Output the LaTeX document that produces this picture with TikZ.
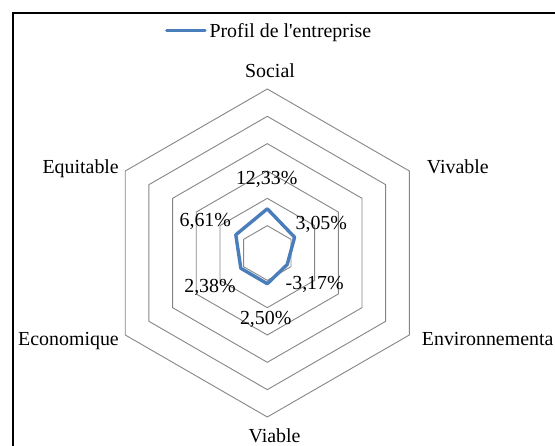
\documentclass[tikz,border=0pt]{standalone}
\usepackage{fontspec}
\setmainfont{Liberation Serif}
\definecolor{gridgray}{RGB}{134,134,134}
\definecolor{profblue}{RGB}{74,126,187}
\begin{document}
\begin{tikzpicture}[x=1pt,y=1pt,
  lbl/.style={inner sep=0pt, font=\fontsize{19.9}{23}\selectfont},
  ring/.style={draw=gridgray, line width=0.9pt, line join=miter},
  profil/.style={draw=profblue, line width=3.4pt, line join=round},
  frameline/.style={draw=black, line width=1.3pt}]
\useasboundingbox (0,0) rectangle (555,446);
\clip (0,0) rectangle (555,446);
\fill[white] (0,0) rectangle (555,446);
% frame (right and bottom edges lie outside the picture)
\draw[frameline] (13,-20) -- (13,433) -- (600,433);
% grid rings
\begin{scope}[shift={(267.3,193)}]
  \foreach \r in {27.333,54.667,82,109.333,136.667,164} {
    \draw[ring] (90:\r) -- (30:\r) -- (-30:\r) -- (-90:\r) -- (210:\r) -- (150:\r) -- cycle;
  }
  % profile
  \coordinate (pS) at (90:44.19);
  \coordinate (pV) at (30:31.50);
  \coordinate (pEn) at (-30:23.00);
  \coordinate (pVi) at (-90:30.75);
  \coordinate (pEc) at (210:30.59);
  \coordinate (pEq) at (150:36.37);
  \draw[profil] (pS) -- (pV) -- (pEn) -- (pVi) -- (pEc) -- (pEq) -- cycle;
\end{scope}
% axis labels
\node[lbl, anchor=base] (social) at (270,368.5) {Social};
\node[lbl, anchor=base west] (vivable) at (426.7,272) {Vivable};
\node[lbl, anchor=base west] (env) at (421.7,100) {Environnementa};
\node[lbl, anchor=base] (viable) at (274.5,3.3) {Viable};
\node[lbl, anchor=base east] (eco) at (119,100) {Economique};
\node[lbl, anchor=base east] (equi) at (119,272) {Equitable};
% value labels
\node[lbl, anchor=base] (vS) at (266.7,261) {12,33\%};
\node[lbl, anchor=base] (vEq) at (205.3,219.3) {6,61\%};
\node[lbl, anchor=base] (vV) at (321.3,216) {3,05\%};
\node[lbl, anchor=base] (vEn) at (314.7,156) {-3,17\%};
\node[lbl, anchor=base] (vEc) at (210,153) {2,38\%};
\node[lbl, anchor=base] (vVi) at (265.7,121) {2,50\%};
% legend
\coordinate (la) at (166.7,415.3);
\coordinate (lb) at (205,415.3);
\draw[profil, line cap=round] (la) -- (lb);
\node[lbl, anchor=base west] (legtext) at (209.3,408.3) {Profil de l\textquotesingle entreprise};
\end{tikzpicture}
\end{document}
